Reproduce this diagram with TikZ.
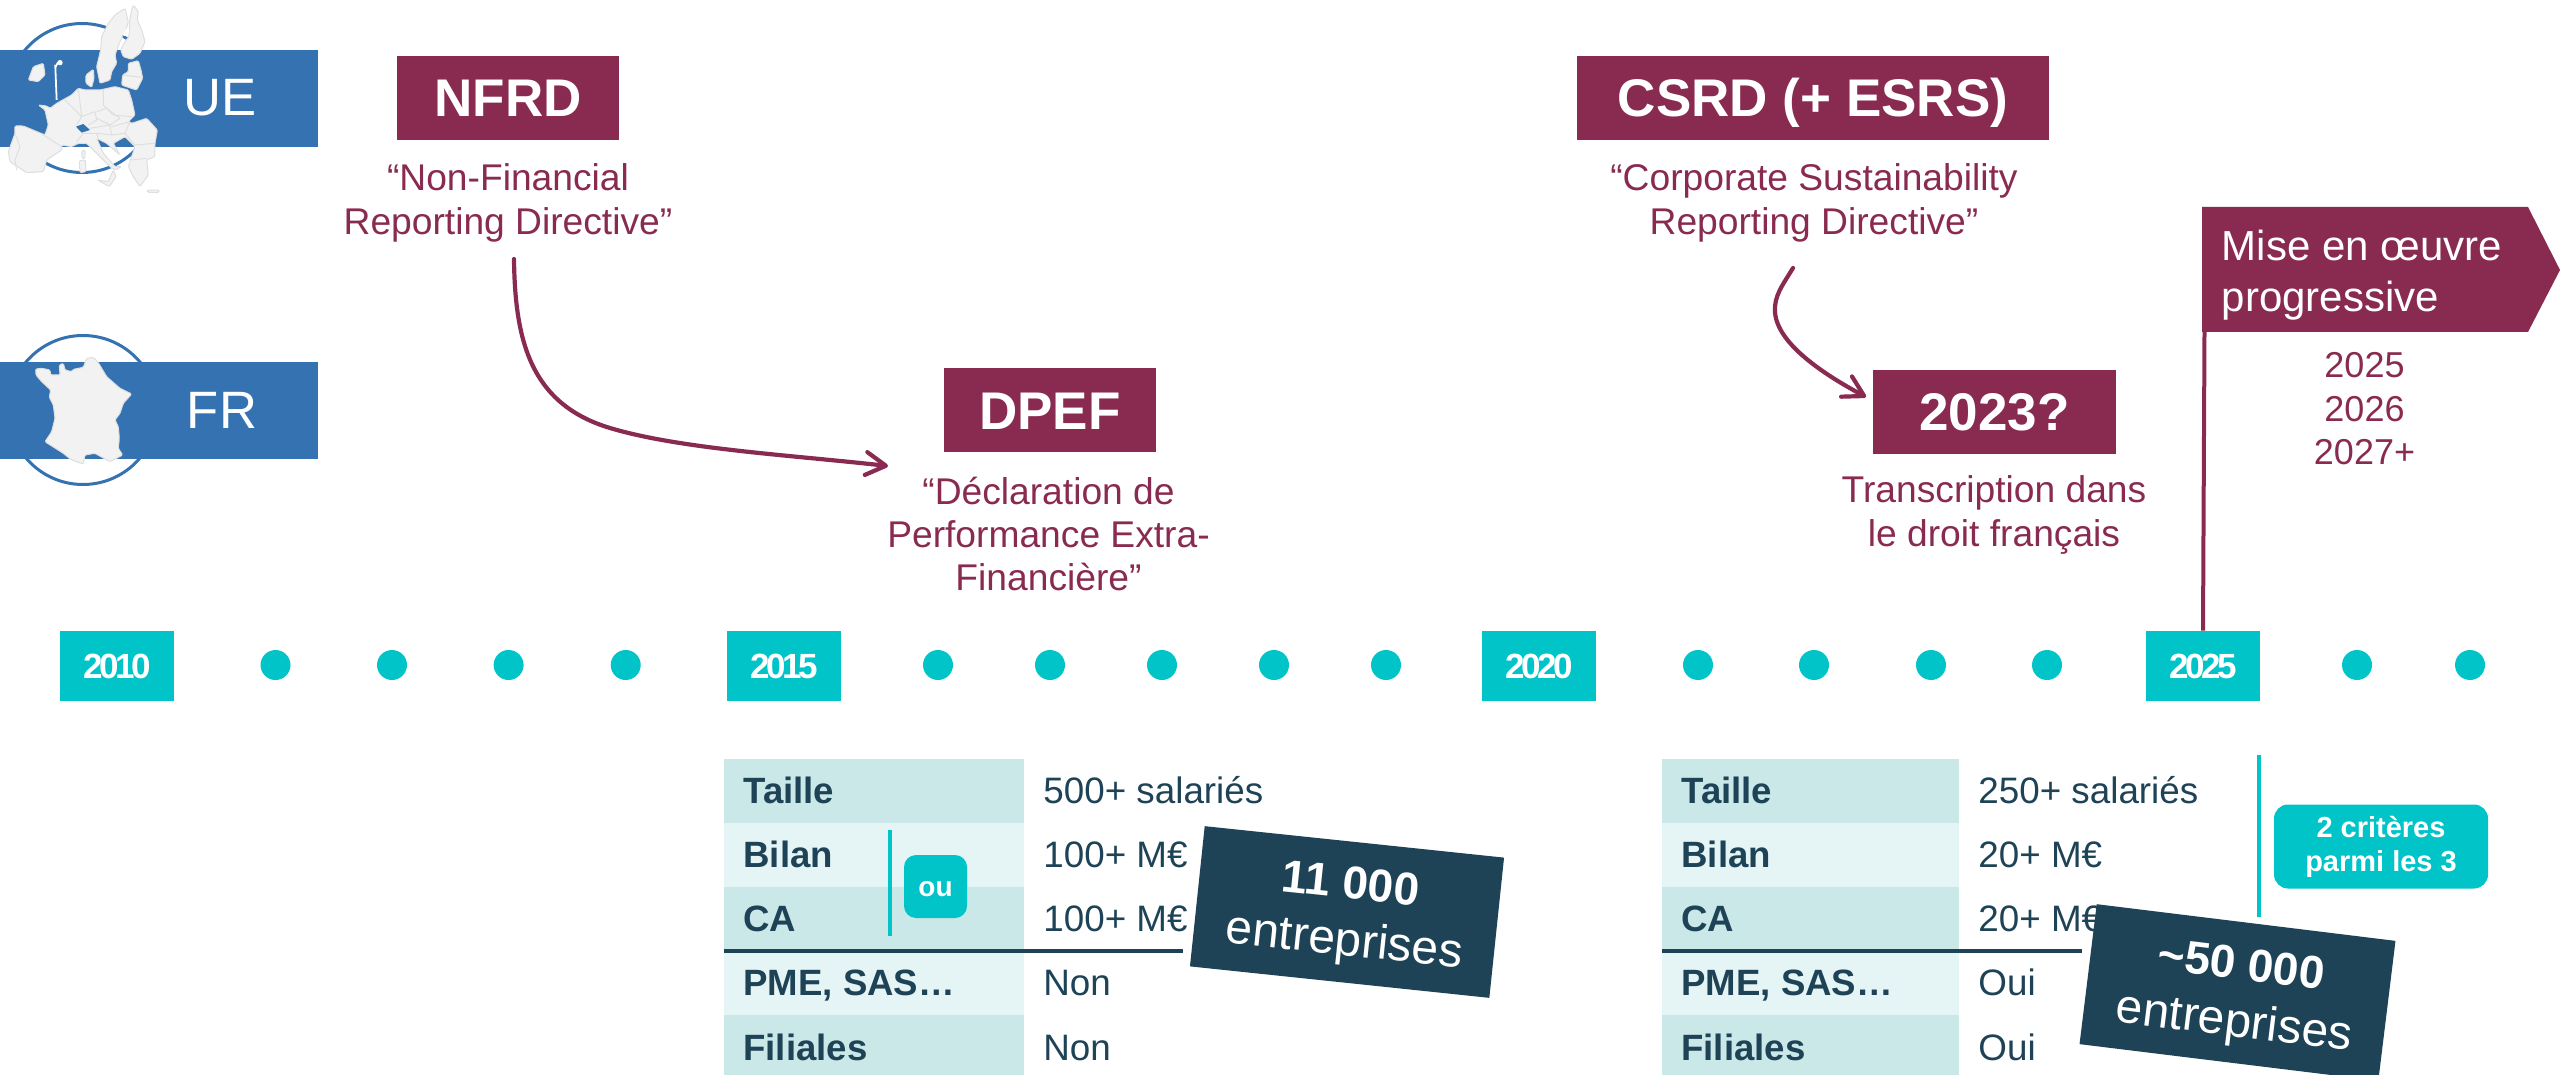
\documentclass[tikz,border=0pt]{standalone}
\usepackage{fontspec}
\setmainfont{Liberation Sans}
\newfontface\yearface[LetterSpace=-10]{Liberation Sans Bold}
\usetikzlibrary{arrows.meta}
\definecolor{bluec}{HTML}{3572B2}
\definecolor{burg}{HTML}{892B50}
\definecolor{tealc}{HTML}{00C4C8}
\definecolor{darkc}{HTML}{1E4356}
\definecolor{rowa}{HTML}{CBE8E8}
\definecolor{rowb}{HTML}{E5F4F5}
\definecolor{mapf}{HTML}{F2F2F2}
\definecolor{mapl}{HTML}{DEDEDE}
\newcommand{\fs}[2]{\fontsize{#1}{#2}\selectfont}
\tikzset{
  band/.style={fill=bluec,inner sep=0pt,minimum width=159pt,minimum height=48.5pt,anchor=north west},
  bandtext/.style={text=white,font=\fs{26.3}{30}},
  ring/.style={draw=bluec,line width=1.5pt,circle,inner sep=0pt,minimum size=74.5pt},
  titlebox/.style={fill=burg,text=white,inner sep=0pt,font=\fs{26.5}{30}\bfseries,minimum height=42pt,text height=19pt,text depth=0pt},
  sub/.style={text=burg,align=center,inner sep=0pt,font=\fs{18.6}{21.7}},
  yearbox/.style={fill=tealc,text=white,inner sep=0pt,minimum width=57pt,minimum height=35pt,font=\fs{17.5}{20}\yearface},
  tdot/.style={fill=tealc,circle,inner sep=0pt,minimum size=15pt},
  conn/.style={draw=burg,line width=2.1pt,line cap=round,-{Straight Barb[length=10pt,width=11.5pt,round]}},
  lbl/.style={anchor=base west,inner sep=0pt,text=darkc,font=\fs{18.3}{20}\bfseries},
  val/.style={anchor=base west,inner sep=0pt,text=darkc,font=\fs{18.4}{20}},
  tag/.style={fill=tealc,text=white,rounded corners=6pt,inner sep=0pt,align=center,font=\fs{14.5}{17}\bfseries},
  stamp/.style={fill=darkc,text=white,inner sep=0pt,align=center,minimum width=150.5pt,minimum height=70.5pt,font=\fs{23}{28.5}},
  mapshape/.style={fill=mapf,draw=mapl,line width=.5pt,line join=round,rounded corners=.6pt},
  mapline/.style={draw=mapl,line width=.45pt,line join=round},
  rule/.style={draw=darkc,line width=2pt},
  tealrule/.style={draw=tealc,line width=2pt}
}
\begin{document}
\begin{tikzpicture}[x=0.5pt,y=-0.5pt]
\useasboundingbox (0,0) rectangle (2560,1075);
\clip (0,0) rectangle (2560,1075);

% ---- rows UE / FR
\node[ring] (ringue) at (82,98) {};
\node[ring] (ringfr) at (83,410) {};
\node[band] (bandue) at (0,50) {};
\node[band] (bandfr) at (0,362) {};

% Europe map (coordinates of a 3x crop)
\begin{scope}[x=1pt/6,y=-1pt/6]
\path[mapshape] (375,25)--(385,65)--(378,90)--(360,125)--(345,165)--(350,190)--(335,215)--(330,240)--(300,250)--(290,200)--(302,150)--(305,110)--(325,70)--(345,45)--cycle;
\path[mapshape] (400,15)--(415,35)--(412,60)--(425,90)--(435,125)--(420,160)--(395,178)--(370,170)--(362,150)--(375,125)--(387,110)--(388,85)--(390,55)--(395,30)--cycle;
\fill[white] (378,86)--(388,92)--(380,110)--(368,106)--cycle;
\fill[bluec] (368,106)--(378,110)--(376,117)--(369,114)--cycle;
\path[mapshape] (385,190)--(415,182)--(423,210)--(428,235)--(410,270)--(385,262)--(365,255)--(368,225)--(385,215)--cycle;
\path[mapline] (368,225)--(425,232);
\path[mapshape] (258,225)--(280,208)--(282,235)--(275,262)--(258,250)--cycle;
\path[mapshape] (85,240)--(100,200)--(130,190)--(135,225)--(115,245)--cycle;
\draw[white,line width=.9pt] (170,300)--(166,200) to[out=-90,in=180] (178,186);
\fill[white] (180,188) circle (8);
\path[mapshape] (115,315)--(140,318)--(150,325)--(170,310)--(215,285)--(235,265)--(255,270)--(300,270)--(345,260)--(385,270)--(395,300)--(405,345)--(385,365)--(395,370)--(440,355)--(472,390)--(465,430)--(465,470)--(440,480)--(445,525)--(420,560)--(400,530)--(385,500)--(395,470)--(405,440)--(375,410)--(340,430)--(360,465)--(320,430)--(290,415)--(310,460)--(345,500)--(365,500)--(345,510)--(330,500)--(300,470)--(260,430)--(235,430)--(215,440)--(185,435)--(185,450)--(140,480)--(130,515)--(80,518)--(30,485)--(25,455)--(45,400)--(45,378)--(70,378)--(135,405)--(145,375)--(135,330)--cycle;
\fill[bluec] (228,380)--(250,372)--(270,390)--(245,398)--cycle;
\path[mapline] (130,405)--(185,440);
\path[mapline] (45,400)--(60,440)--(45,480)--(50,510);
\path[mapline] (195,300)--(225,330)--(245,350)--(230,375);
\path[mapline] (235,265)--(245,350)--(285,335)--(290,360)--(265,375);
\path[mapline] (310,270)--(310,315)--(340,345)--(395,350);
\path[mapline] (290,335)--(320,325)--(360,355)--(330,375)--(290,355);
\path[mapline] (270,385)--(330,375)--(335,405)--(290,400);
\path[mapline] (335,380)--(390,365)--(375,400)--(335,405);
\path[mapline] (375,400)--(405,435)--(465,430);
\path[mapline] (230,425)--(250,400)--(290,400)--(295,415);
\path[mapline] (395,480)--(440,475);
\path[mapshape] (293,540)--(325,545)--(340,510)--(348,530)--(328,560)--cycle;
\path[mapshape] (246,452)--(256,452)--(254,476)--(246,474)--cycle;
\path[mapshape] (238,482)--(256,480)--(258,515)--(240,518)--cycle;
\path[mapshape] (440,571)--(478,570)--(476,578)--(444,577)--cycle;
\end{scope}

% France map
\begin{scope}[x=1pt/6,y=-1pt/6,shift={(0pt,-160pt)}]
\path[mapshape] (107,147)--(125,145)--(150,150)--(152,165)--(180,165)--(178,135)--(190,130)--(195,150)--(215,155)--(220,148)--(250,142)--(260,115)--(280,112)--(295,128)--(320,170)--(360,205)--(395,222)--(370,250)--(360,280)--(345,300)--(355,320)--(358,355)--(355,385)--(368,405)--(330,425)--(285,400)--(255,405)--(250,432)--(215,420)--(190,400)--(135,365)--(155,335)--(165,295)--(160,255)--(148,232)--(152,210)--(125,185)--(108,165)--cycle;
\end{scope}

\node[bandtext] (ue) at (220.5,98) {UE};
\node[bandtext] (fr) at (222,410) {FR};

% ---- titles
\node[titlebox,minimum width=111pt] (nfrd) at (508,98) {NFRD};
\node[sub] (nfrdsub) at (508,203) {“Non-Financial\\Reporting Directive”};
\node[titlebox,minimum width=236pt] (csrd) at (1813,98) {CSRD (+ ESRS)};
\node[sub] (csrdsub) at (1814,203) {“Corporate Sustainability\\Reporting Directive”};
\node[titlebox,minimum width=106pt] (dpef) at (1050,410) {DPEF};
\node[sub] (dpefsub) at (1048.5,534) {“Déclaration de\\Performance Extra-\\Financière”};
\node[titlebox,minimum width=121.5pt] (y2023) at (1994.5,411.5) {2023?};
\node[sub] (y2023sub) at (1994,515) {Transcription dans\\le droit français};

% ---- connectors
\coordinate (c1s) at (514,259);
\coordinate (c1e) at (888,466);
\coordinate (c2s) at (1793,268);
\coordinate (c2e) at (1866,397);
\path[conn] (c1s) .. controls (515,340) and (530,404) .. (610,428) .. controls (680,449) and (790,455) .. (c1e);
\path[conn] (c2s) .. controls (1782,286) and (1774,296) .. (1775,312) .. controls (1777,344) and (1825,375) .. (c2e);

% ---- timeline
\node[yearbox] (t2010) at (117,666) {2010};
\node[yearbox] (t2015) at (784,666) {2015};
\node[yearbox] (t2020) at (1539,666) {2020};
\node[yearbox] (t2025) at (2203,666) {2025};
\foreach \i/\xx in {a/275.5,b/392,c/508.6,d/625.7,e/938,f/1050,g/1162,h/1274,i/1386,j/1698,k/1814,l/1931,m/2047,n/2357,o/2470}
  \node[tdot] (dot\i) at (\xx,665) {};

% ---- flag
\coordinate (flagfoot) at (2204.5,332);
\draw[burg,line width=2pt] (flagfoot) -- (t2025.north);
\fill[burg] (2202,207) -- (2528,207) -- (2560,270) -- (2528,332) -- (2202,332) -- cycle;
\node[anchor=west,text=white,inner sep=0pt,align=left,font=\fs{21}{25.5}] (flagtext) at (2221.5,275) {Mise en œuvre\\progressive};
\node[sub,font=\fs{18}{21.8}] (years) at (2364.5,409) {2025\\2026\\2027+};

% ---- table 1
\fill[rowa] (724,759) rectangle (1024,823);
\fill[rowb] (724,823) rectangle (1024,887);
\fill[rowa] (724,887) rectangle (1024,951);
\fill[rowb] (724,951) rectangle (1024,1015);
\fill[rowa] (724,1015) rectangle (1024,1075);
\node[lbl] (a1) at (743,803) {Taille};
\node[lbl] (a2) at (743,867) {Bilan};
\node[lbl] (a3) at (743,931) {CA};
\node[lbl] (a4) at (743,995) {PME, SAS…};
\node[lbl] (a5) at (743,1060) {Filiales};
\node[val] (av1) at (1043,803) {500+ salariés};
\node[val] (av2) at (1043,867) {100+ M€};
\node[val] (av3) at (1043,931) {100+ M€};
\node[val] (av4) at (1043,995) {Non};
\node[val] (av5) at (1043,1060) {Non};
\draw[rule] (724,951) -- (1183,951);
\draw[tealrule] (890,830) -- (890,936);
\node[tag,minimum width=31.5pt,minimum height=31.5pt,font=\fs{14}{17}\bfseries,text height=10.4pt,text depth=0pt] (ou) at (935.5,886.5) {ou};
\node[stamp,rotate=-6] (s1) at (1347,912) {};
\node[text=white,inner sep=0pt,align=center,rotate=-6,font=\fs{23}{28.5}] (s1text) at (1347,916) {{\bfseries 11 000}\\{\fs{24}{28.5}entreprises}};

% ---- table 2
\fill[rowa] (1662,759) rectangle (1959,823);
\fill[rowb] (1662,823) rectangle (1959,887);
\fill[rowa] (1662,887) rectangle (1959,951);
\fill[rowb] (1662,951) rectangle (1959,1015);
\fill[rowa] (1662,1015) rectangle (1959,1075);
\node[lbl] (b1) at (1681,803) {Taille};
\node[lbl] (b2) at (1681,867) {Bilan};
\node[lbl] (b3) at (1681,931) {CA};
\node[lbl] (b4) at (1681,995) {PME, SAS…};
\node[lbl] (b5) at (1681,1060) {Filiales};
\node[val] (bv1) at (1978,803) {250+ salariés};
\node[val] (bv2) at (1978,867) {20+ M€};
\node[val] (bv3) at (1978,931) {20+ M€};
\node[val] (bv4) at (1978,995) {Oui};
\node[val] (bv5) at (1978,1060) {Oui};
\draw[rule] (1662,951) -- (2082,951);
\draw[tealrule] (2259,755) -- (2259,917);
\node[tag,minimum width=107pt,minimum height=42pt,rounded corners=7pt] (crit) at (2381,846.5) {2 critères\\parmi les 3};
\node[stamp,rotate=-7] (s2) at (2237.5,992.5) {};
\node[text=white,inner sep=0pt,align=center,rotate=-7,font=\fs{23}{28.5}] (s2text) at (2237.5,997) {{\bfseries \char`\~50 000}\\{\fs{24}{28.5}entreprises}};
\end{tikzpicture}
\end{document}
